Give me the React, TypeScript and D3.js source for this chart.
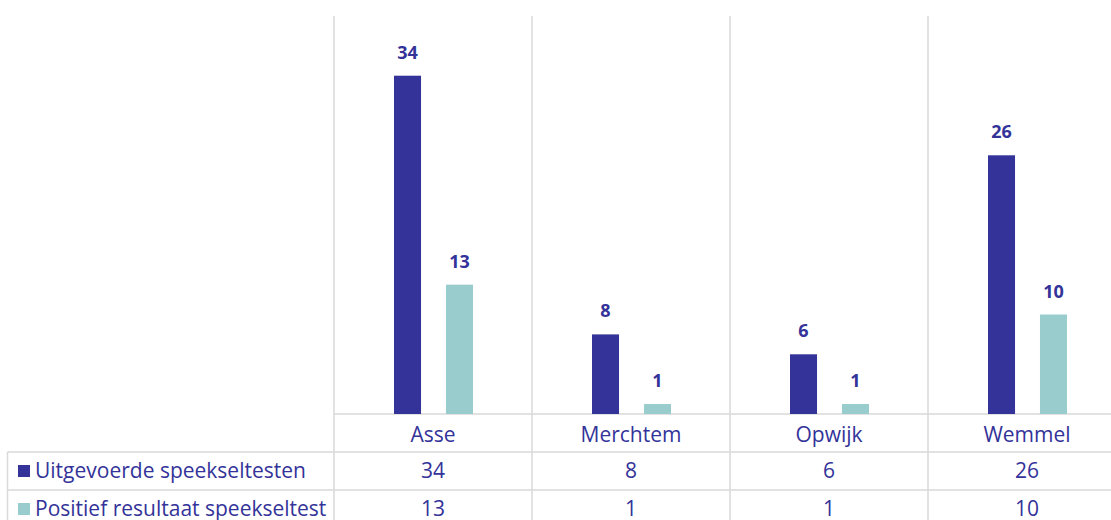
import React from "react";
import * as d3 from "d3";

const categories = ["Asse", "Merchtem", "Opwijk", "Wemmel"];
const seriesNames = ["Uitgevoerde speekseltesten", "Positief resultaat speekseltest"];
const uitgevoerde = [34, 8, 6, 26];
const positief = [13, 1, 1, 10];
const seriesColors = ["#333399", "#99CCCC"];
const seriesValues = [uitgevoerde, positief];

const W = 1111;
const H = 520;
const FONT = "'Open Sans', Lato, sans-serif";
const TEXT = "#333399";
const GRID = "#d9d9d9";

export default function App() {
  const plotLeft = 334;
  const step = 198;
  const x0 = d3.scaleBand<string>().domain(categories).range([plotLeft, plotLeft + step * categories.length]).padding(0);
  const x1 = d3.scaleBand<string>().domain(seriesNames).range([60, 139]).paddingInner(0.48).paddingOuter(0);
  const y = d3.scaleLinear().domain([0, 40]).range([414, 16]);
  const baseY = y(0);
  const row0 = 452;
  const row1 = 490;
  const tableLeft = 7.5;
  const gridXs = categories.map((c) => x0(c)!);
  const rowBase = [478, 516];

  return (
    <svg width={W} height={H} style={{ position: "absolute", left: 0, top: 0, display: "block" }} fontFamily={FONT}>
      <rect x={0} y={0} width={W} height={H} fill="#fff" />
      {gridXs.map((gx, i) => (
        <line key={"v" + i} x1={gx} x2={gx} y1={16} y2={H} stroke={GRID} strokeWidth={1.5} />
      ))}
      <line x1={tableLeft} x2={tableLeft} y1={row0} y2={H} stroke={GRID} strokeWidth={1.5} />
      <line x1={plotLeft} x2={W} y1={baseY} y2={baseY} stroke={GRID} strokeWidth={1.5} />
      <line x1={tableLeft} x2={W} y1={row0} y2={row0} stroke={GRID} strokeWidth={1.5} />
      <line x1={tableLeft} x2={W} y1={row1} y2={row1} stroke={GRID} strokeWidth={1.5} />
      {categories.map((c, ci) =>
        seriesNames.map((s, si) => {
          const v = seriesValues[si][ci];
          const bx = x0(c)! + x1(s)!;
          const bw = x1.bandwidth();
          return (
            <g key={c + s}>
              <rect x={bx} y={y(v)} width={bw} height={baseY - y(v)} fill={seriesColors[si]} />
              <text x={bx + bw / 2} y={y(v) - 17} textAnchor="middle" fontSize={18} fontWeight="bold" fill={TEXT}>
                {v}
              </text>
            </g>
          );
        })
      )}
      {categories.map((c) => (
        <text key={"c" + c} x={x0(c)! + x0.bandwidth() / 2} y={442} textAnchor="middle" fontSize={21} fill={TEXT}>
          {c}
        </text>
      ))}
      {seriesNames.map((s, si) => {
        const by = rowBase[si];
        return (
          <g key={"r" + s}>
            <rect x={18} y={by - 13} width={12} height={12} fill={seriesColors[si]} />
            <text x={35} y={by} fontSize={21} fill={TEXT}>
              {s}
            </text>
            {categories.map((c, ci) => (
              <text key={c} x={x0(c)! + x0.bandwidth() / 2} y={by} textAnchor="middle" fontSize={21} fill={TEXT}>
                {seriesValues[si][ci]}
              </text>
            ))}
          </g>
        );
      })}
    </svg>
  );
}
